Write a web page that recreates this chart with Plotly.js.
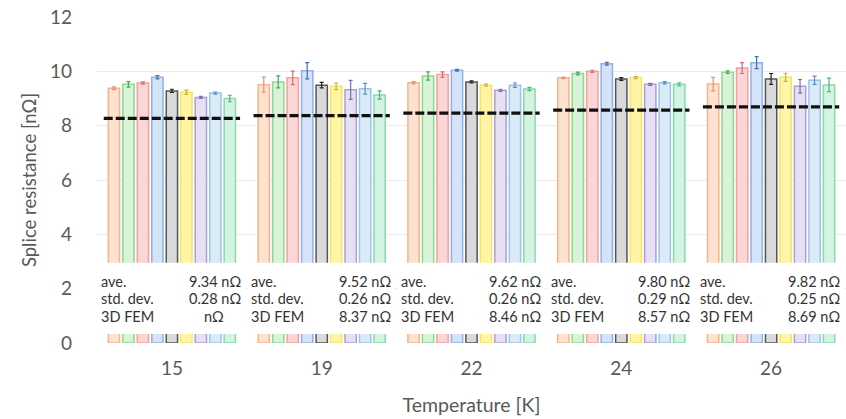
<!DOCTYPE html>
<html>
<head>
<meta charset="utf-8">
<script src="https://cdn.plot.ly/plotly-3.0.1.min.js"></script>
<style>html,body{margin:0;padding:0;background:#fff;}#chart{width:846px;height:419px;}</style>
</head>
<body>
<div id="chart"></div>
<script>
// Categories (temperature, K)
const temperatures = ["15", "19", "22", "24", "26"];

// Splice resistance of each of the 9 splices per temperature [nΩ]
const sample1 = [9.38, 9.51, 9.58, 9.76, 9.53];
const sample2 = [9.52, 9.61, 9.83, 9.92, 9.97];
const sample3 = [9.57, 9.76, 9.88, 10.00, 10.12];
const sample4 = [9.78, 10.02, 10.04, 10.28, 10.32];
const sample5 = [9.28, 9.49, 9.61, 9.72, 9.72];
const sample6 = [9.23, 9.45, 9.49, 9.77, 9.78];
const sample7 = [9.04, 9.32, 9.30, 9.52, 9.45];
const sample8 = [9.20, 9.36, 9.49, 9.58, 9.67];
const sample9 = [9.00, 9.13, 9.35, 9.52, 9.50];

// Error bars (std dev of each splice)
const err1 = [0.05, 0.28, 0.04, 0.03, 0.25];
const err2 = [0.10, 0.22, 0.15, 0.05, 0.05];
const err3 = [0.04, 0.25, 0.10, 0.04, 0.20];
const err4 = [0.06, 0.30, 0.03, 0.05, 0.22];
const err5 = [0.06, 0.10, 0.04, 0.05, 0.20];
const err6 = [0.08, 0.12, 0.04, 0.04, 0.15];
const err7 = [0.04, 0.35, 0.04, 0.04, 0.25];
const err8 = [0.04, 0.20, 0.08, 0.04, 0.15];
const err9 = [0.12, 0.15, 0.06, 0.06, 0.25];

// 3D FEM prediction (dashed line) and text labels
const femValues = [8.27, 8.37, 8.46, 8.57, 8.69];
const aveLabels = ["9.34", "9.52", "9.62", "9.80", "9.82"];
const stdLabels = ["0.28", "0.26", "0.26", "0.29", "0.25"];
const femLabels = ["", "8.37", "8.46", "8.57", "8.69"];
const rowNames = ["ave.", "std. dev.", "3D FEM"];

const samples = [sample1, sample2, sample3, sample4, sample5, sample6, sample7, sample8, sample9];
const errs = [err1, err2, err3, err4, err5, err6, err7, err8, err9];
const fills = ["#fde2d0", "#d8f3d8", "#fbd6d6", "#d4e3f8", "#d9d9db", "#fff5a5", "#e6e0f3", "#dbeaf7", "#d3f4e2"];
const lines = ["#f5b48c", "#8cd98c", "#f2a0a0", "#8fb2e6", "#555555", "#f7e36a", "#ab9fd6", "#9cc4e8", "#8ad9aa"];
const errCols = ["#e8936a", "#3fae5a", "#e06a6a", "#3f6fb5", "#222222", "#c9b23a", "#7a6cb5", "#5b8fbf", "#4cb57a"];

const xIdx = temperatures.map((t, i) => i);
const traces = samples.map((s, k) => ({
  type: "bar", x: xIdx, y: s,
  marker: {color: fills[k], line: {color: lines[k], width: 1.5}},
  error_y: {type: "data", array: errs[k], visible: true, color: errCols[k], thickness: 1.2, width: 2},
  showlegend: false, hoverinfo: "y"
}));

temperatures.forEach((t, i) => {
  traces.push({
    type: "scatter", mode: "lines",
    x: [i - 0.455, i + 0.455], y: [femValues[i], femValues[i]],
    line: {color: "#111111", width: 3.2, dash: "9px,3px"},
    showlegend: false, hoverinfo: "skip"
  });
});

const fontFam = "Lato, 'Open Sans', 'Liberation Sans', sans-serif";
const txtFont = {family: fontFam, size: 14.5, color: "#333333"};
const rowY = [2.28, 1.64, 0.99];
const shapes = [];
const annotations = [];
temperatures.forEach((t, i) => {
  shapes.push({type: "rect", xref: "x", yref: "y", x0: i - 0.49, x1: i + 0.49, y0: 0.33, y1: 2.95,
    fillcolor: "#ffffff", line: {width: 0}, layer: "above"});
  const vals = [aveLabels[i] + " nΩ", stdLabels[i] + " nΩ", femLabels[i] ? femLabels[i] + " nΩ" : "nΩ"];
  rowNames.forEach((name, r) => {
    annotations.push({xref: "x", yref: "y", x: i - 0.485, y: rowY[r], xanchor: "left", yanchor: "middle",
      showarrow: false, text: name, font: txtFont});
    annotations.push({xref: "x", yref: "y", x: (femLabels[i] || r < 2) ? i + 0.475 : i + 0.36, y: rowY[r],
      xanchor: "right", yanchor: "middle", showarrow: false, text: vals[r], font: txtFont});
  });
});

const layout = {
  width: 846, height: 419,
  margin: {l: 97, r: 0, t: 17, b: 76},
  paper_bgcolor: "#ffffff", plot_bgcolor: "#ffffff",
  barmode: "group", bargap: 0.13, bargroupgap: 0.22,
  font: {family: fontFam, color: "#595959"},
  xaxis: {
    range: [-0.5, 4.5], tickvals: xIdx, ticktext: temperatures,
    showgrid: false, zeroline: false, showline: false, ticks: "",
    tickfont: {size: 19, color: "#595959"}, ticklabelstandoff: 12,
    title: {text: "Temperature [K]", font: {size: 19.5, color: "#595959"}, standoff: 20}
  },
  yaxis: {
    range: [0, 12], dtick: 2, showgrid: true, gridcolor: "#ececec", gridwidth: 1,
    zeroline: false, showline: false, ticks: "",
    tickfont: {size: 19, color: "#595959"}, ticklabelstandoff: 24,
    title: {text: "Splice resistance [nΩ]", font: {size: 18.5, color: "#595959"}, standoff: 8}
  },
  shapes: shapes,
  annotations: annotations
};

Plotly.newPlot("chart", traces, layout, {displayModeBar: false, staticPlot: true});
</script>
</body>
</html>
